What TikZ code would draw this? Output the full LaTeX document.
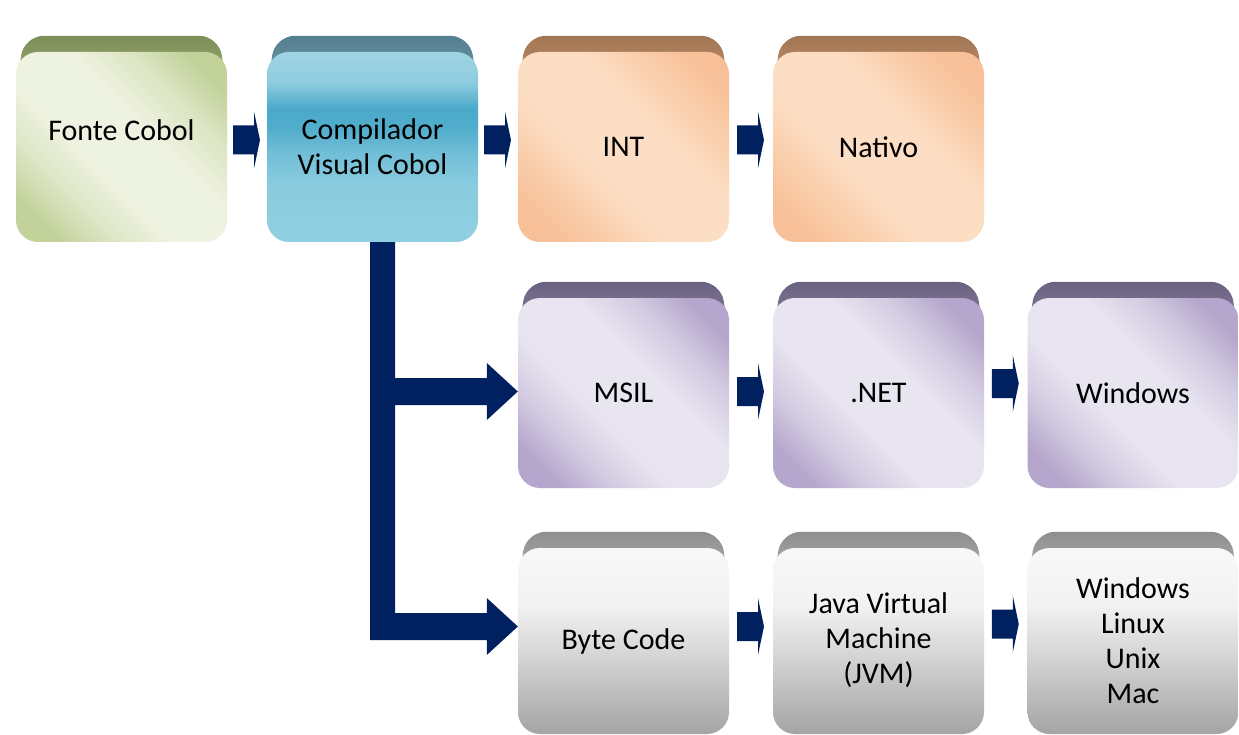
\documentclass[tikz,border=0pt]{standalone}
\usepackage{fontspec}
\setmainfont{Carlito}
\usetikzlibrary{calc,backgrounds}
\definecolor{navy}{HTML}{002060}
% green
\definecolor{gL}{HTML}{EEF2E0}\definecolor{gM}{HTML}{DCE5C4}\definecolor{gD}{HTML}{C2D29A}
\definecolor{gS1}{HTML}{7E8E58}\definecolor{gS2}{HTML}{A2B27A}
% blue
\definecolor{bS1}{HTML}{557F90}\definecolor{bS2}{HTML}{74A2B2}
\definecolor{b0}{HTML}{90CFE1}\definecolor{b1}{HTML}{8ACCDF}\definecolor{b2}{HTML}{72BFD8}
\definecolor{b3}{HTML}{52ADCC}\definecolor{b4}{HTML}{4AA9CA}\definecolor{b5}{HTML}{8ECCDF}
\definecolor{b6}{HTML}{A0D4E4}
% orange
\definecolor{oL}{HTML}{FCDEC4}\definecolor{oM}{HTML}{FAD0AE}\definecolor{oD}{HTML}{F7C098}
\definecolor{oS1}{HTML}{A27652}\definecolor{oS2}{HTML}{C89878}
% purple
\definecolor{pL}{HTML}{E8E4F0}\definecolor{pM}{HTML}{D4CCE2}\definecolor{pD}{HTML}{B4A6CC}
\definecolor{pS1}{HTML}{6A6280}\definecolor{pS2}{HTML}{9086A4}
% gray
\definecolor{kS1}{HTML}{8E8E8E}\definecolor{kS2}{HTML}{BBBBBB}
\definecolor{k0}{HTML}{A4A4A4}\definecolor{k1}{HTML}{D8D8D8}\definecolor{k2}{HTML}{F2F2F2}
\definecolor{k3}{HTML}{F8F8F8}
\pgfdeclarehorizontalshading{diagG}{100bp}{color(0bp)=(gD); color(22bp)=(gD); color(32bp)=(gM); color(42bp)=(gL); color(58bp)=(gL); color(68bp)=(gM); color(78bp)=(gD); color(100bp)=(gD)}
\pgfdeclarehorizontalshading{diagO}{100bp}{color(0bp)=(oD); color(22bp)=(oD); color(32bp)=(oM); color(42bp)=(oL); color(58bp)=(oL); color(68bp)=(oM); color(78bp)=(oD); color(100bp)=(oD)}
\pgfdeclarehorizontalshading{diagP}{100bp}{color(0bp)=(pD); color(22bp)=(pD); color(32bp)=(pM); color(42bp)=(pL); color(58bp)=(pL); color(68bp)=(pM); color(78bp)=(pD); color(100bp)=(pD)}
\pgfdeclareverticalshading{blueband}{100bp}{color(0bp)=(b0); color(25bp)=(b0); color(40bp)=(b1); color(48bp)=(b2); color(55bp)=(b3); color(60bp)=(b4); color(67bp)=(b5); color(75bp)=(b6); color(100bp)=(b6)}
\pgfdeclareverticalshading{grayfade}{100bp}{color(0bp)=(k0); color(25bp)=(k0); color(47.5bp)=(k1); color(60bp)=(k2); color(75bp)=(k3); color(100bp)=(k3)}
\tikzset{
  box/.style={minimum width=211pt, minimum height=190pt, inner sep=0pt,
    rounded corners=22pt, font=\fontsize{30}{35}\selectfont, align=center, text=black},
  lowbox/.style={box, minimum height=186pt},
  gbox/.style={box, shade, shading=diagG, shading angle=45},
  bbox/.style={box, shade, shading=blueband},
  obox/.style={box, shade, shading=diagO, shading angle=45},
  pbox/.style={box, shade, shading=diagP, shading angle=45},
  kbox/.style={lowbox, shade, shading=grayfade},
  conn/.style={fill=navy},
}
\newcommand\topstrip[3]{%
  \shade[top color=#2, bottom color=#3, rounded corners=20pt]
    ($(#1.north west)+(0,44)$) -- ($(#1.north west)+(8,-16)$)
    -- ($(#1.north east)+(-8,-16)$) -- ($(#1.north east)+(0,44)$) -- cycle;}
\newcommand\harrow[3][0]{%
  \coordinate (m) at ($(#2.east)!.5!(#3.west)+(0,#1)$);
  \path[conn] ($(m)+(-14,-14.5)$) -- ($(m)+(7,-14.5)$) -- ($(m)+(7,-28.5)$)
    -- ($(m)+(13,0)$) -- ($(m)+(7,28.5)$) -- ($(m)+(7,14.5)$)
    -- ($(m)+(-14,14.5)$) -- cycle;}
\begin{document}
\begin{tikzpicture}[x=1pt,y=-1pt]
\useasboundingbox (0,0) rectangle (1239,735);

% boxes
\node[gbox] (fonte) at (121.5,147) {\raisebox{34pt}{Fonte Cobol}};
\node[bbox] (comp)  at (372.5,147) {Compilador\\Visual Cobol};
\node[obox] (int)   at (623.5,147) {INT};
\node[obox] (nat)   at (878.5,147) {Nativo};
\node[pbox] (msil)  at (623.5,393) {MSIL};
\node[pbox] (net)   at (878.5,393) {.NET};
\node[pbox] (win)   at (1133,393)  {Windows};
\node[kbox] (byte)  at (623.5,641) {Byte Code};
\node[kbox] (jvm)   at (878.5,641) {\raisebox{44pt}{\begin{tabular}{@{}c@{}}Java Virtual\\Machine\\(JVM)\end{tabular}}};
\node[kbox] (os)    at (1133,641)  {Windows\\Linux\\Unix\\Mac};

% background and top bevel strips
\begin{scope}[on background layer]
\fill[white] (0,0) rectangle (1239,735);
\topstrip{fonte}{gS1}{gS2}
\topstrip{comp}{bS1}{bS2}
\topstrip{int}{oS1}{oS2}
\topstrip{nat}{oS1}{oS2}
\topstrip{msil}{pS1}{pS2}
\topstrip{net}{pS1}{pS2}
\topstrip{win}{pS1}{pS2}
\topstrip{byte}{kS1}{kS2}
\topstrip{jvm}{kS1}{kS2}
\topstrip{os}{kS1}{kS2}
\end{scope}

% small arrows
\harrow[-7]{fonte}{comp}
\harrow[-7]{comp}{int}
\harrow[-7]{int}{nat}
\harrow[-1.5]{msil}{net}
\harrow[-9.5]{net}{win}
\harrow[-14.5]{byte}{jvm}
\harrow[-17]{jvm}{os}

% bus from compiler to MSIL and Byte Code
\coordinate (a1) at ($(msil.west)+(0,-1.5)$);
\coordinate (a2) at ($(byte.west)+(0,-14.5)$);
\coordinate (bl) at ($(comp.south)+(-2.5,0)$);
\coordinate (br) at ($(comp.south)+(22.5,0)$);
\coordinate (a1lo) at ($(a1)+(-31,13.5)$);
\coordinate (a1hi) at ($(a1)+(-31,-13.5)$);
\coordinate (a2lo) at ($(a2)+(-31,13.5)$);
\coordinate (a2hi) at ($(a2)+(-31,-13.5)$);
\path[conn] (bl) -- (bl |- a2lo) -- (a2lo) -- ($(a2)+(-31,28.5)$) -- (a2)
  -- ($(a2)+(-31,-28.5)$) -- (a2hi) -- (br |- a2hi) -- (br |- a1lo) -- (a1lo)
  -- ($(a1)+(-31,28.5)$) -- (a1) -- ($(a1)+(-31,-28.5)$) -- (a1hi)
  -- (br |- a1hi) -- (br) -- cycle;
\end{tikzpicture}
\end{document}
